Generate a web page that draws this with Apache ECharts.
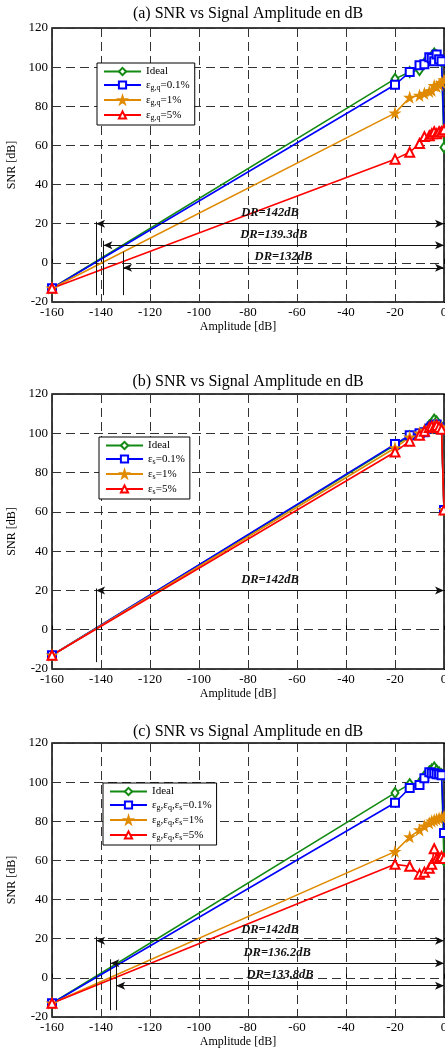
<!DOCTYPE html>
<html>
<head>
<meta charset="utf-8">
<script src="https://cdn.jsdelivr.net/npm/echarts@6/dist/echarts.min.js"></script>
<style>
html, body { margin: 0; padding: 0; background: #fff; }
#main { width: 445px; height: 1052px; }
</style>
</head>
<body>
<div id="main"></div>
<script>
// amplitude points (dB), shared by every curve
const amps = [-160, -20, -14, -10, -8, -6, -5, -4, -3, -2, -1, 0];

// (a) gain / quantisation mismatch
const idealA = [-13, 94, 97.5, 98.5, 102, 104, 105.5, 107, 106, 104, 103, 59];
const gq01 = [-13, 91, 97.5, 101, 101.5, 105, 104.5, 103, 106.5, 104, 103, 67];
const gq1 = [-13, 76.5, 84.5, 85.5, 86.5, 87.5, 88, 90.5, 90, 91, 92, 93.5];
const gq5 = [-13, 53, 56.5, 61, 64.5, 65, 66, 67, 66, 67, 67, 68];

// (b) skew mismatch
const idealB = [-13, 94, 98.5, 99.5, 101, 104, 105, 107, 106, 104, 103, 61];
const s01 = [-13, 94.5, 99, 100, 100.5, 102.5, 103.5, 104, 104.5, 103, 102, 61];
const s1 = [-13, 92.5, 98, 100, 101.5, 102.5, 103, 104, 104, 103.5, 103, 61];
const s5 = [-13, 90.5, 96, 99, 101, 103, 103.5, 103, 104, 103, 102, 61];

// (c) all mismatches together
const idealC = [-13, 94.5, 99, 99.5, 103, 105.5, 106.5, 107.5, 106, 105, 104, 60];
const all01 = [-13, 89.5, 97, 98.5, 102, 105, 104.5, 104.5, 104, 104, 103.5, 74];
const all1 = [-13, 64.5, 72, 75.5, 77.5, 79, 80, 80.5, 81, 81.5, 82, 82.5];
const all5 = [-13, 58, 57, 53, 54, 56, 58, 66, 61, 61, 62, 61];

// dynamic range markers: start of arrow, arrow height, top of the vertical tick, text
const drStartA = [-142, -139, -131];
const drLevelA = [20, 9, -2.5];
const drTopA = [21, 11.3, 5.7];
const drTextA = ['DR=142dB', 'DR=139.3dB', 'DR=132dB'];

const drStartB = [-142];
const drLevelB = [20];
const drTopB = [21];
const drTextB = ['DR=142dB'];

const drStartC = [-142, -136.2, -133.8];
const drLevelC = [19, 7.5, -4];
const drTopC = [21, 9.5, 7.5];
const drTextC = ['DR=142dB', 'DR=136.2dB', 'DR=133.8dB'];

const titles = [
    '(a) SNR vs Signal Amplitude en dB',
    '(b) SNR vs Signal Amplitude en dB',
    '(c) SNR vs Signal Amplitude en dB'
];

const serif = 'Liberation Serif';
const green = '#138a13';
const blue = '#0000ff';
const orange = '#e08a00';
const red = '#ff0000';
const starPath = 'path://M50,0 L61,35 L98,35 L68,57 L79,91 L50,70 L21,91 L32,57 L2,35 L39,35 Z';

// legend labels with subscripts (rich text)
const legendRich = {
    'Ideal': '{m|Ideal}',
    'εgq=0.1%': '{m|ε}{s|g,q}{m|=0.1%}',
    'εgq=1%': '{m|ε}{s|g,q}{m|=1%}',
    'εgq=5%': '{m|ε}{s|g,q}{m|=5%}',
    'εs=0.1%': '{m|ε}{s|s}{m|=0.1%}',
    'εs=1%': '{m|ε}{s|s}{m|=1%}',
    'εs=5%': '{m|ε}{s|s}{m|=5%}',
    'εall=0.1%': '{m|ε}{s|g}{m|,ε}{s|q}{m|,ε}{s|s}{m|=0.1%}',
    'εall=1%': '{m|ε}{s|g}{m|,ε}{s|q}{m|,ε}{s|s}{m|=1%}',
    'εall=5%': '{m|ε}{s|g}{m|,ε}{s|q}{m|,ε}{s|s}{m|=5%}'
};

const gridPos = [
    { top: 28, height: 274 },
    { top: 394, height: 275 },
    { top: 743, height: 274 }
];
const titleTop = [5, 373, 723];
const legendPos = [
    { left: 97, top: 63 },
    { left: 99, top: 437 },
    { left: 103, top: 783 }
];

function curve(name, ys, gi, color, symbol, size) {
    return {
        type: 'line',
        name: name,
        xAxisIndex: gi,
        yAxisIndex: gi,
        data: amps.map((x, i) => [x, ys[i]]),
        symbol: symbol,
        symbolSize: size,
        showAllSymbol: true,
        lineStyle: { color: color, width: 1.6 },
        itemStyle: { color: color, borderColor: color, borderWidth: 1.4 },
        z: 3
    };
}

// horizontal double arrows + vertical ticks + labels, in data coordinates
function drLines(starts, levels, tops, texts) {
    const out = [];
    starts.forEach((x0, i) => {
        out.push([
            { coord: [x0, -16.5], symbol: 'none' },
            { coord: [x0, tops[i]], symbol: 'none' }
        ]);
        out.push([
            {
                coord: [x0, levels[i]], symbol: 'arrow', symbolSize: [6, 9],
                label: { show: true, formatter: texts[i] }
            },
            {
                coord: [0, levels[i]], symbol: 'arrow', symbolSize: [6, 9],
                label: { show: true, formatter: texts[i] }
            }
        ]);
    });
    return out;
}

function drSeries(gi, starts, levels, tops, texts) {
    return {
        type: 'line',
        name: 'dr' + gi,
        xAxisIndex: gi,
        yAxisIndex: gi,
        data: [],
        z: 4,
        markLine: {
            silent: true,
            animation: false,
            symbol: ['none', 'none'],
            lineStyle: { color: '#111', width: 1, type: 'solid' },
            label: {
                show: false,
                position: 'insideMiddleTop',
                distance: 4,
                color: '#111',
                fontFamily: serif,
                fontStyle: 'italic',
                fontWeight: 'bold',
                fontSize: 12.5
            },
            emphasis: { disabled: true },
            data: drLines(starts, levels, tops, texts)
        }
    };
}

const grid = [], xAxis = [], yAxis = [], title = [], legend = [];
for (let gi = 0; gi < 3; gi++) {
    grid.push({
        left: 52, right: 1,
        top: gridPos[gi].top, height: gridPos[gi].height,
        outerBoundsMode: 'none',
        containLabel: false,
        show: true, borderColor: '#000', borderWidth: 1.5,
        backgroundColor: '#fff'
    });
    xAxis.push({
        gridIndex: gi,
        type: 'value',
        min: -160, max: 0, interval: 20,
        name: 'Amplitude [dB]',
        nameLocation: 'middle',
        nameGap: 19,
        nameTextStyle: { fontFamily: serif, fontSize: 12, color: '#000', padding: [0, 20, 0, 0] },
        axisLine: { show: false },
        axisTick: { show: true, inside: true, length: 4, lineStyle: { color: '#000' } },
        axisLabel: { fontFamily: serif, fontSize: 13, color: '#000', margin: 4 },
        splitLine: { show: true, lineStyle: { color: '#333', width: 1, type: [9, 5] } }
    });
    yAxis.push({
        gridIndex: gi,
        type: 'value',
        min: -20, max: 120, interval: 20,
        name: 'SNR [dB]',
        nameLocation: 'middle',
        nameGap: 27,
        nameTextStyle: { fontFamily: serif, fontSize: 12, color: '#000' },
        axisLine: { show: false },
        axisTick: { show: true, inside: true, length: 4, lineStyle: { color: '#000' } },
        axisLabel: { fontFamily: serif, fontSize: 13, color: '#000', margin: 4 },
        splitLine: { show: true, lineStyle: { color: '#333', width: 1, type: [9, 5] } }
    });
    title.push({
        text: titles[gi],
        left: 248,
        top: titleTop[gi],
        textAlign: 'center',
        padding: 0,
        textStyle: { fontFamily: serif, fontSize: 16, fontWeight: 'normal', color: '#000', lineHeight: 18 }
    });
}

const legendNames = [
    ['Ideal', 'εgq=0.1%', 'εgq=1%', 'εgq=5%'],
    ['Ideal', 'εs=0.1%', 'εs=1%', 'εs=5%'],
    ['Ideal', 'εall=0.1%', 'εall=1%', 'εall=5%']
];
for (let gi = 0; gi < 3; gi++) {
    legend.push({
        orient: 'vertical',
        left: legendPos[gi].left,
        top: legendPos[gi].top,
        data: legendNames[gi],
        backgroundColor: '#fff',
        borderColor: '#000',
        borderWidth: 1,
        padding: [3, 5, 3, 6],
        itemGap: 2.5,
        itemWidth: 37,
        itemHeight: 9,
        selectedMode: false,
        formatter: name => legendRich[name],
        textStyle: {
            fontFamily: serif,
            color: '#000',
            rich: {
                m: { fontFamily: serif, fontSize: 11, lineHeight: 14, color: '#000' },
                s: { fontFamily: serif, fontSize: 8, lineHeight: 8, verticalAlign: 'bottom', color: '#000' }
            }
        },
        z: 10
    });
}

const series = [
    curve('Ideal', idealA, 0, green, 'emptyDiamond', [7, 10]),
    curve('εgq=0.1%', gq01, 0, blue, 'emptyRect', 8),
    curve('εgq=1%', gq1, 0, orange, starPath, 9),
    curve('εgq=5%', gq5, 0, red, 'emptyTriangle', 9),
    drSeries(0, drStartA, drLevelA, drTopA, drTextA),

    curve('Ideal', idealB, 1, green, 'emptyDiamond', [7, 10]),
    curve('εs=0.1%', s01, 1, blue, 'emptyRect', 8),
    curve('εs=1%', s1, 1, orange, starPath, 9),
    curve('εs=5%', s5, 1, red, 'emptyTriangle', 9),
    drSeries(1, drStartB, drLevelB, drTopB, drTextB),

    curve('Ideal', idealC, 2, green, 'emptyDiamond', [7, 10]),
    curve('εall=0.1%', all01, 2, blue, 'emptyRect', 8),
    curve('εall=1%', all1, 2, orange, starPath, 9),
    curve('εall=5%', all5, 2, red, 'emptyTriangle', 9),
    drSeries(2, drStartC, drLevelC, drTopC, drTextC)
];

const chart = echarts.init(document.getElementById('main'), null, { renderer: 'canvas' });
chart.setOption({
    animation: false,
    backgroundColor: '#fff',
    title: title,
    legend: legend,
    grid: grid,
    xAxis: xAxis,
    yAxis: yAxis,
    series: series
});
</script>
</body>
</html>
